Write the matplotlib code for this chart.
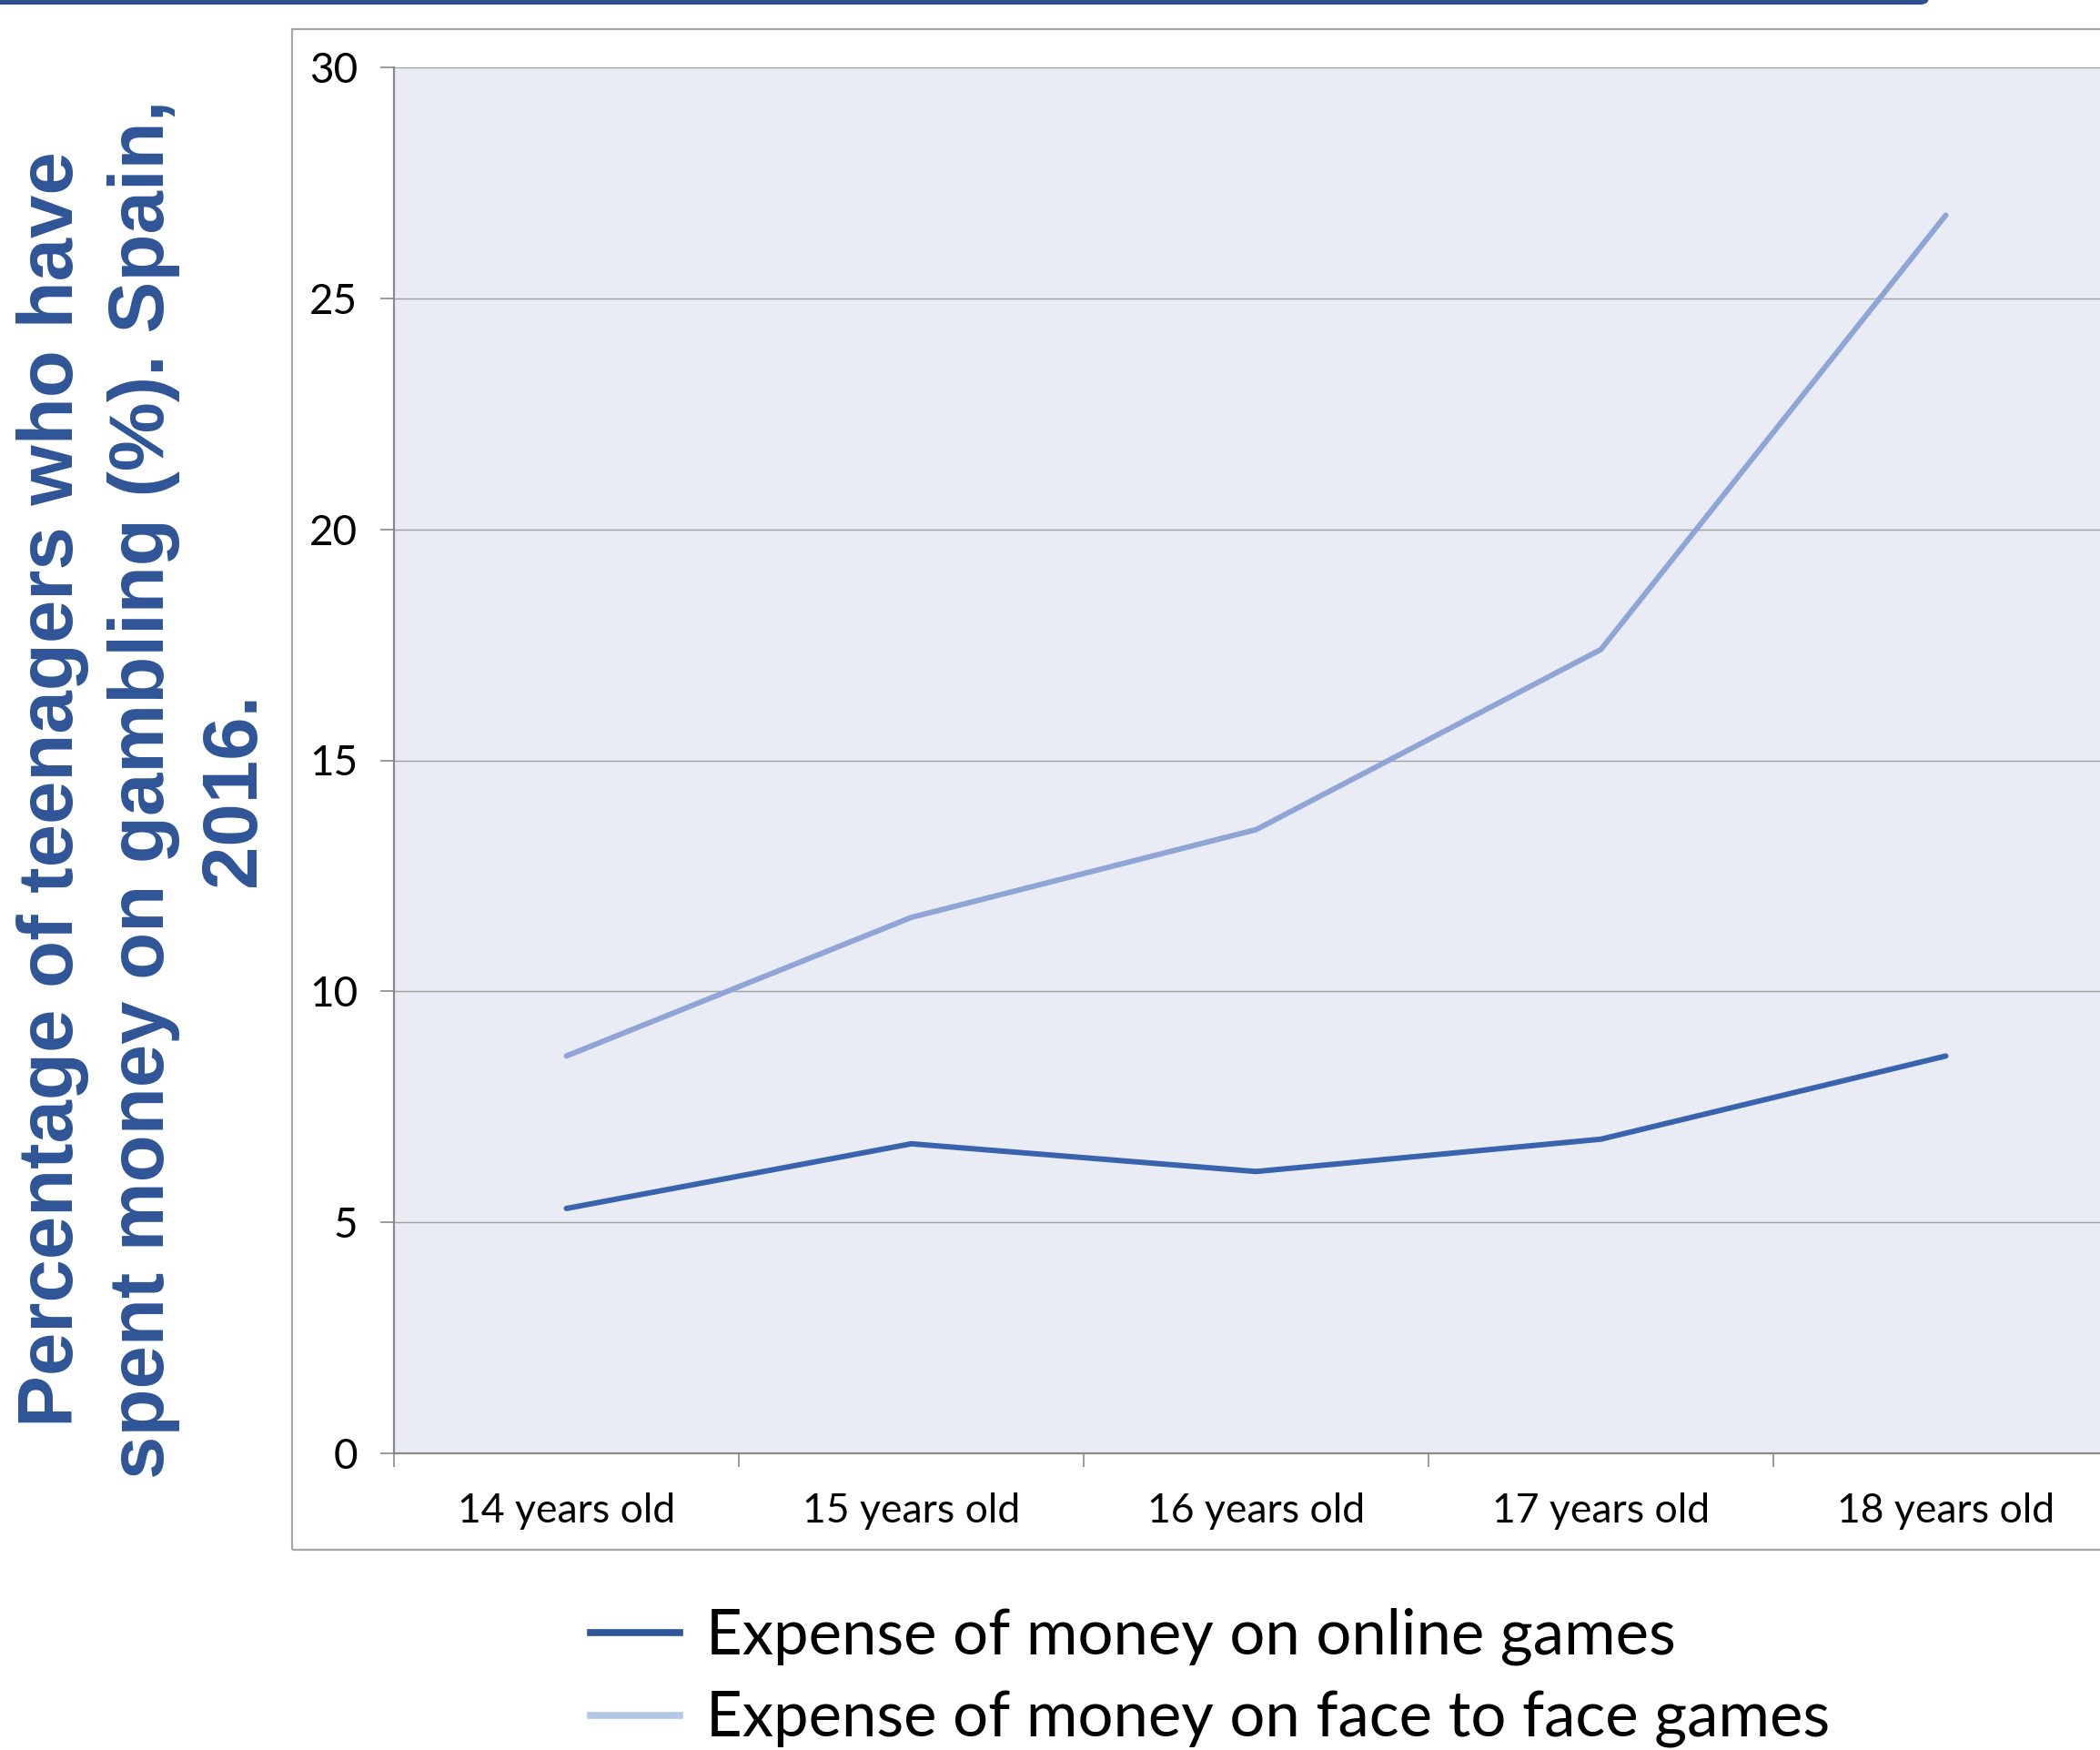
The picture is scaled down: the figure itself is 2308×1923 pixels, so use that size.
import matplotlib
matplotlib.use("Agg")
import matplotlib.pyplot as plt
from matplotlib.lines import Line2D
from matplotlib.patches import Rectangle, FancyBboxPatch

categories = ["14 years old", "15 years old", "16 years old", "17 years old", "18 years old"]
online = [5.3, 6.7, 6.1, 6.8, 8.6]
face_to_face = [8.6, 11.6, 13.5, 17.4, 26.8]
series_labels = ["Expense of money on online games", "Expense of money on face to face games"]
y_ticks = [0, 5, 10, 15, 20, 25, 30]
ylabel = "Percentage of teenagers who have\nspent money on gambling (%). Spain,\n2016."

W, H, DPI = 2308, 1923, 100
fig = plt.figure(figsize=(W / DPI, H / DPI), dpi=DPI)

def fx(px):
    return px / W

def fy(py):
    return 1 - py / H

# top decorative bar
fig.add_artist(FancyBboxPatch((fx(-20), fy(5)), fx(2140), 5 / H + 0.01,
                              boxstyle="round,pad=0,rounding_size=0.004",
                              transform=fig.transFigure, facecolor="#2e4f8f",
                              edgecolor="none", zorder=5))

# outer chart box
fig.add_artist(Rectangle((fx(321), fy(1703)), fx(2100), (1703 - 32) / H,
                         transform=fig.transFigure, facecolor="none",
                         edgecolor="#a6a6a6", linewidth=1.6, zorder=1))

left, top, bottom = 433, 74, 1597
n = len(categories)
step = 379
ax = fig.add_axes([fx(left), fy(bottom), fx(step * n), (bottom - top) / H])
ax.set_facecolor("#e9ecf4")

x = list(range(n))
ax.plot(x, online, color="#3a63ae", linewidth=4.3, solid_capstyle="round",
        solid_joinstyle="round", zorder=3)
ax.plot(x, face_to_face, color="#8fa5d6", linewidth=4.3, solid_capstyle="round",
        solid_joinstyle="round", zorder=3)

ax.set_xlim(-0.5, n - 0.5)
ax.set_ylim(0, 30)
ax.set_yticks(y_ticks)
ax.set_xticks(x)
ax.set_xticklabels(categories)
ax.set_xticks([i - 0.5 for i in range(n + 1)], minor=True)

ax.yaxis.grid(True, color="#a0a0a0", linewidth=1.0)
ax.set_axisbelow(True)
for s in ["top", "right"]:
    ax.spines[s].set_visible(False)
for s in ["left", "bottom"]:
    ax.spines[s].set_color("#898989")
    ax.spines[s].set_linewidth(1.6)

ax.tick_params(axis="y", length=10.8, width=1.2, color="#898989", pad=18,
               labelsize=33, labelfontfamily="Lato")
ax.tick_params(axis="x", which="major", length=0, pad=31, labelsize=32,
               labelfontfamily="Lato")
ax.tick_params(axis="x", which="minor", length=10.8, width=1.2, color="#898989")

fig.text(fx(158), fy(867), ylabel, rotation=90, ha="center", va="center",
         multialignment="center", fontsize=61.4, fontweight="bold",
         family="Liberation Sans", color="#2f5597", linespacing=1.33)

handles = [Line2D([], [], color="#2f5597", linewidth=5.5),
           Line2D([], [], color="#b4c7e7", linewidth=5.5)]
fig.legend(handles, series_labels, loc="center left",
           bbox_to_anchor=(fx(649), fy(1844)), frameon=False,
           prop={"family": "Lato", "size": 49.6}, handlelength=1.42,
           handletextpad=0.42, labelspacing=0.40, borderaxespad=0, borderpad=0)

fig.savefig("out.png", dpi=DPI)
